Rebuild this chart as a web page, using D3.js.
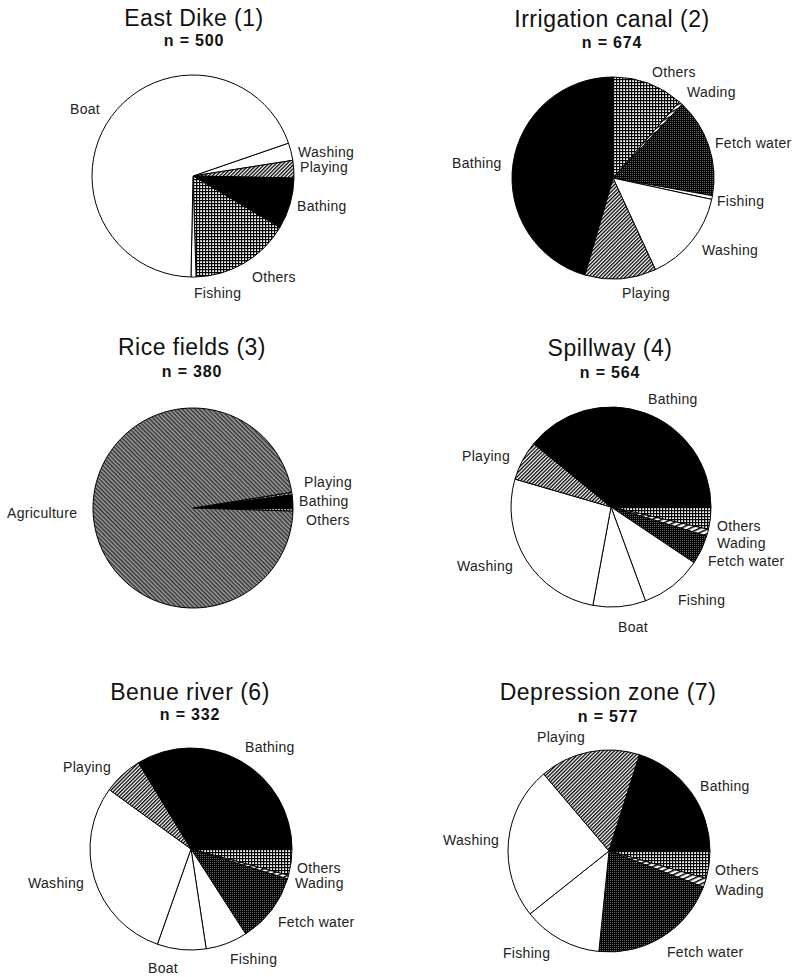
<!DOCTYPE html>
<html><head><meta charset="utf-8">
<script src="https://cdn.jsdelivr.net/npm/d3@7"></script>
<style>html,body{margin:0;padding:0;background:#fff;}svg{display:block;}</style>
</head><body>
<script>
// ---- data (percent of observations, clockwise order) ----
const eastDikeCats   = ["Washing","Playing","Bathing","Others","Fishing","Boat"];
const eastDikeVals   = [2.8, 2.8, 8.2, 16.0, 0.8, 69.4];
const irrigationCats = ["Others","Wading","Fetch water","Fishing","Washing","Playing","Bathing"];
const irrigationVals = [11.4, 0.6, 15.8, 0.6, 14.7, 11.4, 45.5];
const riceCats       = ["Playing","Bathing","Others","Agriculture"];
const riceVals       = [0.4, 2.2, 0.4, 97.0];
const spillwayCats   = ["Others","Wading","Fetch water","Fishing","Boat","Washing","Playing","Bathing"];
const spillwayVals   = [3.6, 1.1, 4.7, 10.0, 8.5, 26.6, 6.4, 39.1];
const benueCats      = ["Others","Wading","Fetch water","Fishing","Boat","Washing","Playing","Bathing"];
const benueVals      = [4.2, 0.6, 11.1, 6.7, 7.8, 29.6, 6.3, 33.7];
const depressionCats = ["Others","Wading","Fetch water","Fishing","Washing","Playing","Bathing"];
const depressionVals = [4.4, 1.4, 20.8, 12.7, 24.5, 16.1, 20.1];
const titles = ["East Dike (1)","Irrigation canal (2)","Rice fields (3)","Spillway (4)","Benue river (6)","Depression zone (7)"];
const sampleSizes = [500, 674, 380, 564, 332, 577];

// ---- layout ----
const layout = [
  {cx:193, cy:176, r:101, start:71, tx:194, ty:26, ny:46,
   labels:{"Boat":[70,114],"Washing":[298,157],"Playing":[300,172],"Bathing":[297,211],"Others":[252,282],"Fishing":[194,298]}},
  {cx:613, cy:178, r:101, start:0, tx:612, ty:27, ny:48,
   labels:{"Others":[652,77],"Wading":[687,97],"Fetch water":[715,148],"Bathing":[452,168],"Fishing":[717,206],"Washing":[702,255],"Playing":[622,298]}},
  {cx:193, cy:508, r:100, start:81, tx:192, ty:355, ny:377,
   labels:{"Agriculture":[7,518],"Playing":[304,487],"Bathing":[299,506],"Others":[306,525]}},
  {cx:611, cy:507, r:100, start:90, tx:610, ty:356, ny:378,
   labels:{"Bathing":[648,404],"Playing":[462,461],"Others":[717,531],"Wading":[717,548],"Fetch water":[708,566],"Washing":[457,571],"Fishing":[678,605],"Boat":[618,632]}},
  {cx:191, cy:849, r:101, start:90, tx:190, ty:700, ny:720,
   labels:{"Bathing":[245,752],"Playing":[63,772],"Others":[297,873],"Wading":[295,888],"Washing":[28,888],"Fetch water":[278,927],"Fishing":[230,964],"Boat":[148,973]}},
  {cx:609, cy:851, r:101, start:90, tx:608, ty:700, ny:722,
   labels:{"Playing":[537,742],"Bathing":[700,791],"Washing":[443,845],"Others":[715,875],"Wading":[715,895],"Fishing":[503,958],"Fetch water":[667,957]}}
];
const pies = [
  [eastDikeCats, eastDikeVals],[irrigationCats, irrigationVals],[riceCats, riceVals],
  [spillwayCats, spillwayVals],[benueCats, benueVals],[depressionCats, depressionVals]
];

const W = 801, H = 977;
const svg = d3.select("body").append("svg").attr("width", W).attr("height", H);
const defs = svg.append("defs");

function pat(id, size, bg, transform){
  const p = defs.append("pattern").attr("id", id).attr("patternUnits","userSpaceOnUse")
    .attr("width", size).attr("height", size);
  if (transform) p.attr("patternTransform", transform);
  p.append("rect").attr("width", size).attr("height", size).attr("fill", bg);
  return p;
}
// Playing: fine diagonal hatch
pat("hatch", 2.6, "#fff", "rotate(-45)")
  .append("rect").attr("x",0).attr("y",0).attr("width",2.6).attr("height",1.3).attr("fill","#000");
// Others: open grid
{ const p = pat("grid", 3, "#fff");
  p.append("rect").attr("x",0).attr("y",0).attr("width",3).attr("height",1.2).attr("fill","#000");
  p.append("rect").attr("x",0).attr("y",0).attr("width",1.2).attr("height",3).attr("fill","#000"); }
// Fetch water: dense dark check
{ const p = pat("dense", 2, "#fff");
  p.append("rect").attr("x",0).attr("y",0).attr("width",2).attr("height",1.1).attr("fill","#000");
  p.append("rect").attr("x",0).attr("y",0).attr("width",1.1).attr("height",2).attr("fill","#000");
  p.append("rect").attr("x",1).attr("y",1).attr("width",1).attr("height",1).attr("fill","#666"); }
// Wading: white with stripes
pat("stripes", 4, "#fff", "rotate(-25)")
  .append("rect").attr("x",0).attr("y",0).attr("width",4).attr("height",1.5).attr("fill","#000");
// Agriculture: dense grey texture
{ const p = pat("agri", 3, "#a0a0a0", "rotate(45)");
  p.append("rect").attr("x",0).attr("y",0).attr("width",3).attr("height",1.5).attr("fill","#333"); }

const fills = {
  "Boat":"#fff","Washing":"#fff","Fishing":"#fff",
  "Playing":"url(#hatch)","Bathing":"#000","Others":"url(#grid)",
  "Fetch water":"url(#dense)","Wading":"url(#stripes)","Agriculture":"url(#agri)"
};

const font = "'Liberation Sans', Arial, Helvetica, sans-serif";

pies.forEach(([cats, vals], i) => {
  const L = layout[i];
  const data = cats.map((c, k) => ({cat:c, value:vals[k]}));
  const s = L.start * Math.PI / 180;
  const pie = d3.pie().sort(null).value(d => d.value).startAngle(s).endAngle(s + 2*Math.PI);
  const arc = d3.arc().innerRadius(0).outerRadius(L.r);
  const g = svg.append("g").attr("transform", `translate(${L.cx},${L.cy})`);
  g.selectAll("path").data(pie(data)).join("path")
    .attr("d", arc)
    .attr("fill", d => fills[d.data.cat])
    .attr("stroke", "#000").attr("stroke-width", 1).attr("stroke-linejoin","round");

  svg.append("text").attr("x", L.tx).attr("y", L.ty).attr("text-anchor","middle")
    .attr("font-family", font).attr("font-size", 23).attr("fill","#111")
    .attr("letter-spacing", 0.5).text(titles[i]);
  svg.append("text").attr("x", L.tx).attr("y", L.ny).attr("text-anchor","middle")
    .attr("font-family", font).attr("font-size", 16).attr("font-weight","bold").attr("fill","#111")
    .attr("letter-spacing", 0.8).text("n = " + sampleSizes[i]);

  cats.forEach(c => {
    const p = L.labels[c];
    if (!p) return;
    svg.append("text").attr("x", p[0]).attr("y", p[1])
      .attr("font-family", font).attr("font-size", 14).attr("fill","#222")
      .attr("letter-spacing", 0.3).text(c);
  });
});
</script>
</body></html>
